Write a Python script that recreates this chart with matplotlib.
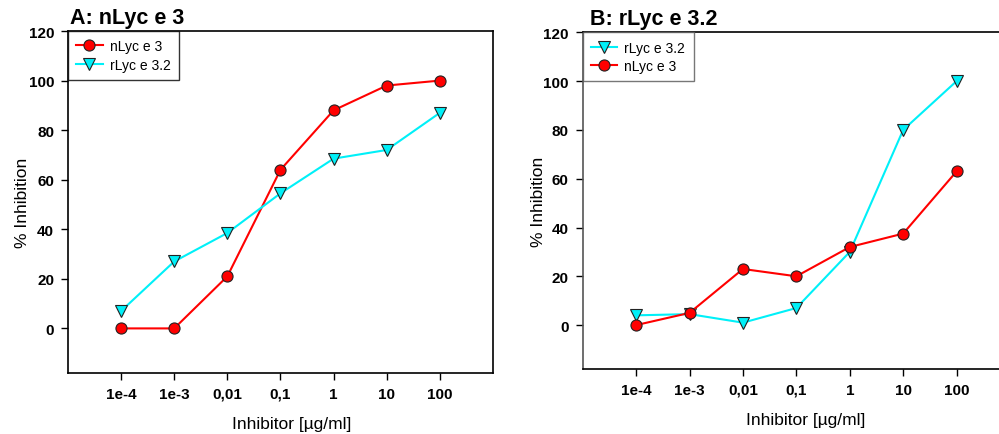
import numpy as np
import matplotlib
matplotlib.use('Agg')
import matplotlib.pyplot as plt

plt.rcParams['font.family'] = ['Liberation Sans', 'DejaVu Sans']

# Inhibitor concentrations (ug/ml), plotted as evenly spaced categories
conc_labels = ['1e-4', '1e-3', '0,01', '0,1', '1', '10', '100']

# Panel A: inhibition of nLyc e 3
a_nlyc = [0, 0, 21, 64, 88, 98, 100]
a_rlyc = [7, 27, 38.5, 54.5, 68.5, 72, 87]

# Panel B: inhibition of rLyc e 3.2
b_rlyc = [4, 4.5, 1, 7, 30, 80, 100]
b_nlyc = [0, 5, 23, 20, 32, 37.5, 63]

red = '#ff0000'
cyan = '#00f0f8'

fig = plt.figure(figsize=(9.99, 4.35), dpi=100)
ax_a = fig.add_axes([0.068, 0.1402, 0.4255, 0.7862])
ax_b = fig.add_axes([0.5833, 0.1494, 0.4277, 0.774])

x = np.arange(len(conc_labels))

def style_axis(ax):
    ax.set_xlim(-1, 7)
    ax.set_ylim(-18, 120)
    ax.set_xticks(x)
    ax.set_xticklabels(conc_labels)
    ax.set_yticks([0, 20, 40, 60, 80, 100, 120])
    ax.tick_params(direction='out', length=5, width=1, labelsize=11, pad=5)
    for lab in ax.get_xticklabels() + ax.get_yticklabels():
        lab.set_fontweight('bold')
    for sp in ax.spines.values():
        sp.set_linewidth(1.2)
    ax.set_ylabel('% Inhibition', fontsize=12.5)
    ax.set_xlabel('Inhibitor [\u00b5g/ml]', fontsize=12.5)

circ = dict(marker='o', markersize=8, markeredgecolor='#222222', markeredgewidth=0.8, lw=1.5)
tri = dict(marker='v', markersize=8.5, markeredgecolor='#222222', markeredgewidth=0.8, lw=1.5)
leg_kw = dict(loc='upper left', borderaxespad=0, fancybox=False, fontsize=10,
              handlelength=1.9, handletextpad=0.5, borderpad=0.6, labelspacing=0.3)

ax_a.plot(x, a_nlyc, color=red, markerfacecolor=red, label='nLyc e 3', **circ)
ax_a.plot(x, a_rlyc, color=cyan, markerfacecolor=cyan, label='rLyc e 3.2', **tri)
style_axis(ax_a)
leg = ax_a.legend(**leg_kw)
leg.get_frame().set_edgecolor('black')
leg.get_frame().set_linewidth(1.0)
ax_a.yaxis.set_label_coords(-0.09, 0.5)
ax_a.xaxis.set_label_coords(0.527, -0.126)

ax_b.plot(x, b_rlyc, color=cyan, markerfacecolor=cyan, label='rLyc e 3.2', **tri)
ax_b.plot(x, b_nlyc, color=red, markerfacecolor=red, label='nLyc e 3', **circ)
style_axis(ax_b)
ax_b.spines['left'].set_color('#555555')
leg = ax_b.legend(**leg_kw)
leg.get_frame().set_edgecolor('#555555')
leg.get_frame().set_linewidth(1.0)
ax_b.yaxis.set_label_coords(-0.085, 0.5)
ax_b.xaxis.set_label_coords(0.523, -0.128)

fig.text(0.070, 0.958, 'A: nLyc e 3', fontsize=15.5, fontweight='bold', va='center')
fig.text(0.591, 0.955, 'B: rLyc e 3.2', fontsize=15.5, fontweight='bold', va='center')

fig.savefig('out.png', dpi=100)
